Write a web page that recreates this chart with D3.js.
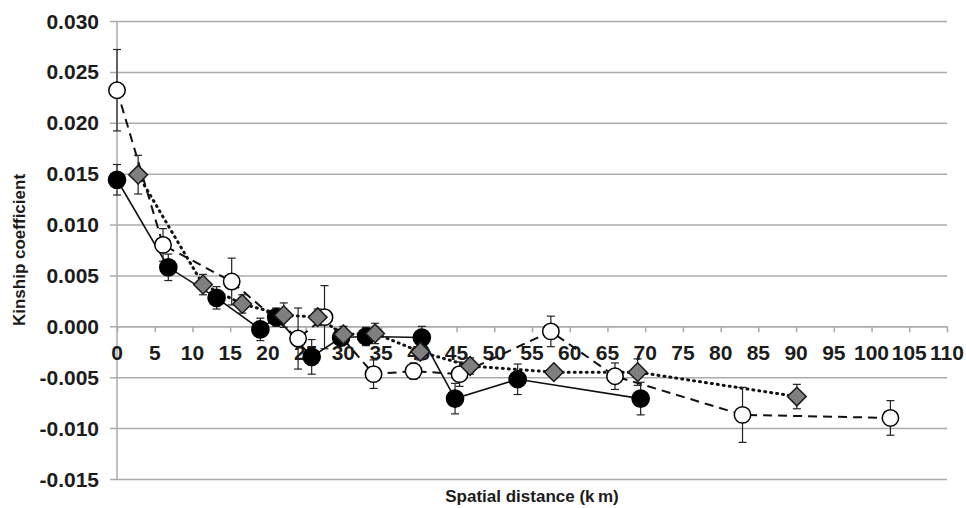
<!DOCTYPE html>
<html>
<head>
<meta charset="utf-8">
<script src="https://cdn.jsdelivr.net/npm/d3@7/dist/d3.min.js"></script>
<style>
  html, body { margin: 0; padding: 0; background: #fff; }
  #chart { width: 966px; height: 508px; }
</style>
</head>
<body>
<div id="chart"></div>
<script>
// Kinship coefficient vs spatial distance, three series with error bars

// series 1: black filled circles, solid line
const blackKm  = [0, 6.8, 13.2, 19.0, 21.1, 25.8, 29.7, 33.0, 40.4, 44.8, 53.1, 69.4];
const blackK   = [0.0144, 0.0058, 0.0028, -0.0003, 0.0009, -0.0030, -0.0011, -0.0010, -0.0011, -0.0071, -0.0052, -0.0071];
const blackErr = [0.0015, 0.0013, 0.0011, 0.0011, 0.0009, 0.0017, 0.0008, 0.0009, 0.0011, 0.0015, 0.0015, 0.0016];

// series 2: open circles, dashed line
const openKm  = [0, 6.1, 15.2, 24.0, 27.5, 34.0, 39.3, 45.4, 57.5, 66.0, 82.9, 102.5];
const openK   = [0.0232, 0.0080, 0.0044, -0.0012, 0.0009, -0.0047, -0.0044, -0.0047, -0.0005, -0.0049, -0.0087, -0.0090];
const openErr = [0.0040, 0.0016, 0.0023, 0.0030, 0.0031, 0.0014, 0.0008, 0.0012, 0.0015, 0.0013, 0.0027, 0.0017];

// series 3: grey diamonds, dotted line
const diamKm  = [2.8, 11.4, 16.6, 22.1, 26.6, 30.0, 34.2, 40.2, 46.8, 57.9, 69.0, 90.1];
const diamK   = [0.0149, 0.0041, 0.0022, 0.0011, 0.0009, -0.0008, -0.0007, -0.0025, -0.0039, -0.0045, -0.0045, -0.0069];
const diamErr = [0.0019, 0.0010, 0.0009, 0.0012, 0.0008, 0.0008, 0.0010, 0.0008, 0.0008, 0.0005, 0.0013, 0.0012];

const xTicks = d3.range(0, 111, 5);
const yTicks = [-0.015, -0.010, -0.005, 0.000, 0.005, 0.010, 0.015, 0.020, 0.025, 0.030];

const xTitle = 'Spatial distance (k\u2009m)';
const yTitle = 'Kinship coefficient';

function drawChart() {
    const width = 966, height = 508;
    const left = 117, right = 947, top = 21, bottom = 479;
    const font = '"Liberation Sans", Arial, sans-serif';
    const ink = '#1c1c1c';
    const gridColor = '#ababab';

    const svg = d3.select('#chart')
        .append('svg')
        .attr('width', width)
        .attr('height', height)
        .style('font-family', font);

    const x = d3.scaleLinear().domain([0, 110]).range([left, right]);
    const y = d3.scaleLinear().domain([-0.015, 0.030]).range([bottom, top]);

    // horizontal gridlines (with outer ticks on the y axis)
    svg.append('g')
        .attr('transform', `translate(${left},0)`)
        .call(d3.axisLeft(y).tickValues(yTicks).tickSize(-(right - left)).tickFormat(''))
        .call(g => g.select('.domain').remove())
        .call(g => g.selectAll('line')
            .attr('stroke', gridColor)
            .attr('stroke-width', 1.5)
            .attr('x1', -7));

    // y tick labels (plain hyphen for negatives)
    svg.append('g')
        .selectAll('text')
        .data(yTicks)
        .join('text')
        .attr('x', 99)
        .attr('y', d => y(d))
        .attr('dy', '0.36em')
        .attr('text-anchor', 'end')
        .attr('font-size', '21px')
        .attr('font-weight', 700)
        .attr('fill', ink)
        .text(d => d.toFixed(3));

    // vertical axis line
    svg.append('line')
        .attr('x1', x(0)).attr('x2', x(0))
        .attr('y1', y(0.030)).attr('y2', y(-0.015))
        .attr('stroke', gridColor)
        .attr('stroke-width', 1.5);

    // x axis at y = 0
    const xAxis = svg.append('g')
        .attr('transform', `translate(0,${y(0)})`)
        .call(d3.axisBottom(x).tickValues(xTicks).tickSize(6).tickSizeOuter(0).tickFormat(''));
    xAxis.select('.domain').attr('stroke', gridColor).attr('stroke-width', 1.5);
    xAxis.selectAll('line').attr('stroke', gridColor).attr('stroke-width', 1.5);

    svg.append('g')
        .selectAll('text')
        .data(xTicks)
        .join('text')
        .attr('x', d => x(d))
        .attr('y', y(0) + 34)
        .attr('text-anchor', 'middle')
        .attr('font-size', '21px')
        .attr('font-weight', 700)
        .attr('fill', ink)
        .text(d => d);

    // axis titles
    svg.append('text')
        .attr('x', (left + right) / 2)
        .attr('y', 502)
        .attr('text-anchor', 'middle')
        .attr('font-size', '17px')
        .attr('font-weight', 700)
        .attr('fill', ink)
        .text(xTitle);

    svg.append('text')
        .attr('transform', `translate(25,${(top + bottom) / 2}) rotate(-90)`)
        .attr('text-anchor', 'middle')
        .attr('font-size', '17px')
        .attr('font-weight', 700)
        .attr('fill', ink)
        .text(yTitle);

    const series = [
        { km: blackKm, k: blackK, err: blackErr, dash: null, width: 1.6, cap: 'butt', marker: 'filled' },
        { km: openKm, k: openK, err: openErr, dash: '9,6', width: 2, cap: 'butt', marker: 'open' },
        { km: diamKm, k: diamK, err: diamErr, dash: '1,5', width: 3, cap: 'round', marker: 'diamond' }
    ].map(s => ({ ...s, pts: s.km.map((d, i) => ({ km: d, k: s.k[i], e: s.err[i] })) }));

    const line = d3.line().x(d => x(d.km)).y(d => y(d.k));

    // lines
    series.forEach(s => {
        svg.append('path')
            .datum(s.pts)
            .attr('d', line)
            .attr('fill', 'none')
            .attr('stroke', '#111')
            .attr('stroke-width', s.width)
            .attr('stroke-linecap', s.cap)
            .attr('stroke-dasharray', s.dash);
    });

    // error bars
    series.forEach(s => {
        const g = svg.append('g').attr('stroke', '#222').attr('stroke-width', 1.2);
        g.selectAll('line.v').data(s.pts).join('line')
            .attr('x1', d => x(d.km)).attr('x2', d => x(d.km))
            .attr('y1', d => y(d.k + d.e)).attr('y2', d => y(d.k - d.e));
        [1, -1].forEach(sign => {
            g.selectAll('line.c' + sign).data(s.pts).join('line')
                .attr('x1', d => x(d.km) - 4).attr('x2', d => x(d.km) + 4)
                .attr('y1', d => y(d.k + sign * d.e)).attr('y2', d => y(d.k + sign * d.e));
        });
    });

    // markers: open circles, black circles, diamonds on top
    const order = [series[1], series[0], series[2]];
    order.forEach(s => {
        if (s.marker === 'diamond') {
            svg.append('g').selectAll('path').data(s.pts).join('path')
                .attr('d', d3.symbol(d3.symbolSquare, 175))
                .attr('transform', d => `translate(${x(d.km)},${y(d.k)}) rotate(45)`)
                .attr('fill', '#7f7f7f')
                .attr('stroke', '#1a1a1a')
                .attr('stroke-width', 1.5);
        } else {
            svg.append('g').selectAll('circle').data(s.pts).join('circle')
                .attr('cx', d => x(d.km))
                .attr('cy', d => y(d.k))
                .attr('r', s.marker === 'filled' ? 8.6 : 8.2)
                .attr('fill', s.marker === 'filled' ? '#000' : '#fff')
                .attr('stroke', '#000')
                .attr('stroke-width', 1.5);
        }
    });
}

drawChart();
</script>
</body>
</html>
